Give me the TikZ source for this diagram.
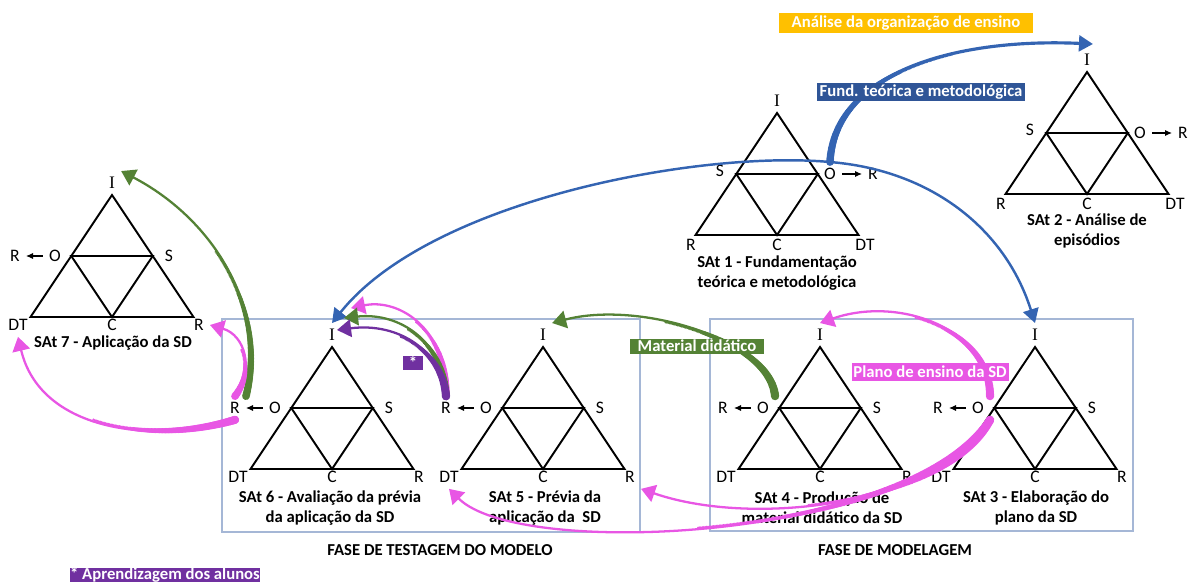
\documentclass[tikz,border=0pt]{standalone}
\usepackage{fontspec}
\setmainfont{Carlito}
\newfontfamily\serifI{Liberation Serif}
\usetikzlibrary{arrows.meta,decorations.markings}

\definecolor{arrowblue}{RGB}{52,100,178}
\definecolor{tagblue}{RGB}{47,85,151}
\definecolor{arrowgreen}{RGB}{84,130,53}
\definecolor{arrowpink}{RGB}{232,86,228}
\definecolor{arrowpurple}{RGB}{112,48,160}
\definecolor{tagorange}{RGB}{255,192,0}
\definecolor{phaseline}{RGB}{165,183,214}

\begin{document}
\begin{tikzpicture}[x=0.02cm, y=-0.02cm,
    tri/.style={line width=1.1pt},
    vlab/.style={font=\fontsize{10}{12}\selectfont},
    title/.style={font=\fontsize{9.5}{11.5}\selectfont\bfseries, align=center},
    tag/.style={font=\fontsize{9.5}{11}\selectfont\bfseries, text=white, inner sep=0pt},
    flow/.style={line width=1.3pt, -{Triangle[length=8pt,width=10pt]}},
    thin flow/.style={line width=1.4pt, -{Triangle[length=8pt,width=9pt]}},
    % thick start that thins out along the curve
    taper/.style={postaction={decorate, decoration={markings,
      mark=between positions 0 and 0.55 step 0.8pt with {
        \pgfmathsetmacro\tapr{0.65+(#1-0.65)*(1-\pgfkeysvalueof{/pgf/decoration/mark info/distance from start}/(0.55*\pgfdecoratedpathlength))}
        \fill (0,0) circle (\tapr pt);}}}},
    small arrow/.style={line width=0.6pt, -{Latex[length=4pt,width=3.5pt]}},
    % triangle with S on the left and O -> R on the right
    sat right/.pic={
      \draw[tri] (0,0) -- (-81.5,122) -- (81.5,122) -- cycle;
      \draw[tri] (-40.75,61) -- (40.75,61) -- (0,122) -- cycle;
      \node[vlab] (-lI) at (0,-12) {\serifI I};
      \node[vlab] (-lS) at (-57,58) {S};
      \node[vlab] (-lO) at (53,61) {O};
      \node[vlab] (-lR) at (96,61) {R};
      \draw[small arrow] (-lO) -- (-lR);
      \node[vlab] (-lbR) at (-86,132) {R};
      \node[vlab] (-lC) at (0,132) {C};
      \node[vlab] (-lDT) at (88,132) {DT};
    },
    % triangle with R <- O on the left and S on the right
    sat left/.pic={
      \draw[tri] (0,0) -- (-81.5,122) -- (81.5,122) -- cycle;
      \draw[tri] (-40.75,61) -- (40.75,61) -- (0,122) -- cycle;
      \node[vlab] (-lI) at (0,-12) {\serifI I};
      \node[vlab] (-lO) at (-57,61) {O};
      \node[vlab] (-lR) at (-97,61) {R};
      \draw[small arrow] (-lO) -- (-lR);
      \node[vlab] (-lS) at (57,61) {S};
      \node[vlab] (-lDT) at (-94,130) {DT};
      \node[vlab] (-lC) at (0,130) {C};
      \node[vlab] (-lbR) at (87,130) {R};
    }]
  \useasboundingbox (0,0) rectangle (1189,584);

  % Phase frames
  \draw[phaseline, line width=0.7pt] (222,319) rectangle (640,532);
  \draw[phaseline, line width=0.7pt] (710,319) rectangle (1133,531);
  \node[title] (fase-test) at (440,550) {FASE DE TESTAGEM DO MODELO};
  \node[title] (fase-mod) at (895,550) {FASE DE MODELAGEM};

  % Triangles
  \pic (t1) at (777,113) {sat right};
  \pic (t2) at (1087,72) {sat right};
  \pic (t7) at (112,195) {sat left};
  \pic (t6) at (332,347) {sat left};
  \pic (t5) at (543,347) {sat left};
  \pic (t4) at (820,347) {sat left};
  \pic (t3) at (1035,347) {sat left};

  % Titles
  \node[title] (s1) at (777,273) {SAt 1 - Fundamentação\\teórica e metodológica};
  \node[title] (s2) at (1087,231) {SAt 2 - Análise de\\episódios};
  \node[title] (s3) at (1036,508) {SAt 3 - Elaboração do\\plano da SD};
  \node[title] (s4) at (822,508) {SAt 4 - Produção de\\material didático da SD};
  \node[title] (s5) at (545,508) {SAt 5 - Prévia da\\aplicação da~ SD};
  \node[title] (s6) at (330,508) {SAt 6 - Avaliação da prévia\\da aplicação da SD};
  \node[title] (s7) at (113,343) {SAt 7 - Aplicação da SD};

  % Free arrow ends
  \coordinate (a2) at (1093,44);
  \coordinate (h-pu) at (337,330);
  \coordinate (h-gr) at (344,318);
  \coordinate (h-pk) at (351,308);

  % Blue arrows from SAt 1
  \draw[thin flow, arrowblue, line width=1.8pt, taper=2.2] (t1-lO.north) .. controls (835,70) and (960,38) .. (a2);
  \draw[thin flow, arrowblue] (t1-lO.north) .. controls (700,150) and (430,200) .. (t6-lI.north);
  \draw[thin flow, arrowblue] (t1-lO.north) .. controls (930,170) and (1005,228) .. (t3-lI.north);

  % SAt 4 -> SAt 5
  \draw[flow, arrowgreen, taper=2.4] (t4-lO.north east) .. controls (770,340) and (640,300) .. (t5-lI.north east);

  % SAt 3 -> SAt 4, SAt 5
  \draw[flow, arrowpink, taper=2.4] (t3-lO.north east) .. controls (990,330) and (900,295) .. (t4-lI.north);
  \draw[flow, arrowpink, taper=2.4] (t3-lO.south east) .. controls (950,500) and (760,530) .. (t5-lbR.south east);
  \draw[flow, arrowpink, taper=2.4] (t3-lO.south east) .. controls (910,540) and (520,560) .. (t5-lDT.south);

  % SAt 5 -> SAt 6
  \draw[flow, arrowpink, taper=2.2] (t5-lR.north) .. controls (448,330) and (400,298) .. (h-pk);
  \draw[flow, arrowgreen, taper=2.2] (t5-lR.north) .. controls (444,342) and (400,312) .. (h-gr);
  \draw[flow, arrowpurple, taper=2.4] (t5-lR.north) .. controls (442,352) and (400,322) .. (h-pu);

  % SAt 6 -> SAt 7
  \draw[flow, arrowgreen, taper=2.2] (t6-lR.north east) .. controls (268,310) and (215,220) .. (t7-lI.north east);
  \draw[flow, arrowpink, taper=2.2] (t6-lR.north) .. controls (255,370) and (245,335) .. (t7-lbR.east);
  \draw[flow, arrowpink, taper=2.4] (t6-lR.south) .. controls (150,445) and (40,430) .. (t7-lDT.south);

  % Tags
  \node[tag, fill=tagorange, minimum width=5.1cm, minimum height=0.4cm] (tag-org) at (906,23) {Análise da organização de ensino};
  \node[tag, fill=tagblue, minimum width=4.16cm, minimum height=0.36cm] (tag-fund) at (921,92) {Fund. teórica e metodológica};
  \node[tag, fill=arrowgreen, minimum width=2.68cm, minimum height=0.3cm] (tag-mat) at (697,346) {Material didático};
  \node[tag, fill=arrowpink, minimum width=3.14cm, minimum height=0.36cm] (tag-plano) at (930,372) {Plano de ensino da SD};
  \node[tag, fill=arrowpurple, minimum width=0.4cm, minimum height=0.28cm] (tag-ast) at (413,363) {*};
  \node[tag, fill=arrowpurple, minimum width=3.8cm, minimum height=0.28cm] (tag-apr) at (165,575) {* Aprendizagem dos alunos};
\end{tikzpicture}
\end{document}
